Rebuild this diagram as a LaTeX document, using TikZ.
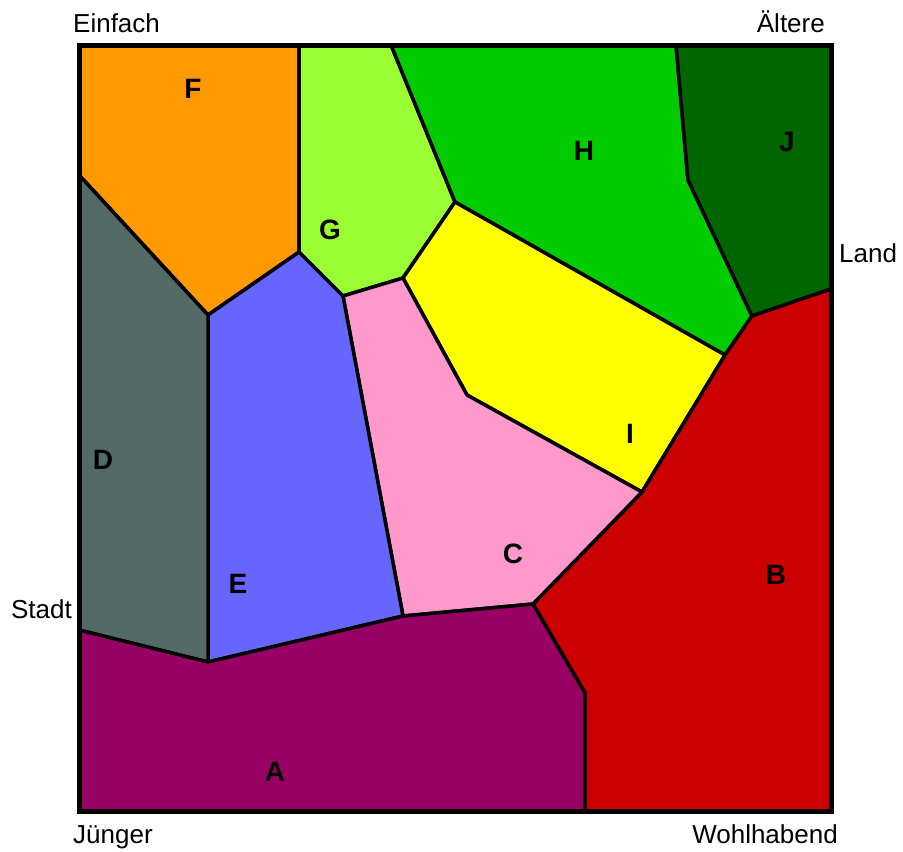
\documentclass[tikz,border=0pt]{standalone}
\usepackage{fontspec}
\setmainfont{Liberation Sans}
\usepackage{xcolor}
\usepackage{tikz}

\definecolor{cellA}{HTML}{990066}
\definecolor{cellB}{HTML}{CC0000}
\definecolor{cellC}{HTML}{FF99CC}
\definecolor{cellD}{HTML}{536A66}
\definecolor{cellE}{HTML}{6666FF}
\definecolor{cellF}{HTML}{FF9900}
\definecolor{cellG}{HTML}{99FF33}
\definecolor{cellH}{HTML}{00CC00}
\definecolor{cellI}{HTML}{FFFF00}
\definecolor{cellJ}{HTML}{006600}

\begin{document}
\begin{tikzpicture}[x=1pt, y=-1pt,
            cell/.style={draw=black, line width=3.5pt, line join=round},
            frame/.style={draw=black, line width=5pt, line join=miter},
            tag/.style={font=\fontsize{28}{30}\selectfont\bfseries, inner sep=0pt},
            axis/.style={font=\fontsize{26}{28}\selectfont, inner sep=0pt}]

            \useasboundingbox (0,0) rectangle (903,852);

            % Frame corners
            \coordinate (tl) at (79,45);
            \coordinate (tr) at (831,45);
            \coordinate (br) at (831,811);
            \coordinate (bl) at (79,811);

            % Cell vertices
            \coordinate (v1) at (299,45);
            \coordinate (v2) at (391,45);
            \coordinate (v3) at (676,45);
            \coordinate (v4) at (688,180);
            \coordinate (v5) at (752,316);
            \coordinate (v6) at (831,289);
            \coordinate (v7) at (725,355);
            \coordinate (v8) at (642,492);
            \coordinate (v9) at (533,604);
            \coordinate (v10) at (585,693);
            \coordinate (v11) at (585,811);
            \coordinate (v12) at (403,616);
            \coordinate (v13) at (208,662);
            \coordinate (v14) at (79,630);
            \coordinate (v15) at (79,175);
            \coordinate (v16) at (208,315);
            \coordinate (v17) at (299,252);
            \coordinate (v18) at (343,296);
            \coordinate (v19) at (403,278);
            \coordinate (v20) at (455,202);
            \coordinate (v21) at (467,395);

            % Cells
            \filldraw [cell, fill=cellF] (tl) -- (v1) -- (v17) -- (v16) -- (v15) -- cycle;
            \filldraw [cell, fill=cellG] (v1) -- (v2) -- (v20) -- (v19) -- (v18) -- (v17) -- cycle;
            \filldraw [cell, fill=cellH] (v2) -- (v3) -- (v4) -- (v5) -- (v7) -- (v20) -- cycle;
            \filldraw [cell, fill=cellJ] (v3) -- (tr) -- (v6) -- (v5) -- (v4) -- cycle;
            \filldraw [cell, fill=cellI] (v20) -- (v7) -- (v8) -- (v21) -- (v19) -- cycle;
            \filldraw [cell, fill=cellB] (v6) -- (br) -- (v11) -- (v10) -- (v9) -- (v8) -- (v7) -- (v5) -- cycle;
            \filldraw [cell, fill=cellC] (v19) -- (v21) -- (v8) -- (v9) -- (v12) -- (v18) -- cycle;
            \filldraw [cell, fill=cellE] (v17) -- (v18) -- (v12) -- (v13) -- (v16) -- cycle;
            \filldraw [cell, fill=cellD] (v15) -- (v16) -- (v13) -- (v14) -- cycle;
            \filldraw [cell, fill=cellA] (v14) -- (v13) -- (v12) -- (v9) -- (v10) -- (v11) -- (bl) -- cycle;
            \draw [frame] (tl) rectangle (br);

            % Cell letters
            \node (lF) [tag] at (193,89) {F};
            \node (lG) [tag] at (330,230) {G};
            \node (lH) [tag] at (584,151) {H};
            \node (lJ) [tag] at (787,142) {J};
            \node (lI) [tag] at (630,434) {I};
            \node (lD) [tag] at (103,460) {D};
            \node (lE) [tag] at (238,584) {E};
            \node (lC) [tag] at (513,554) {C};
            \node (lB) [tag] at (776,575) {B};
            \node (lA) [tag] at (275,772) {A};

            % Axis words
            \node (einfach) [axis, anchor=base west] at (73,32) {Einfach};
            \node (aeltere) [axis, anchor=base east] at (825,32) {Ältere};
            \node (land) [axis, anchor=base west] at (839,262) {Land};
            \node (stadt) [axis, anchor=base east] at (72,618) {Stadt};
            \node (juenger) [axis, anchor=base west] at (73,843) {Jünger};
            \node (wohl) [axis, anchor=base east] at (838,843) {Wohlhabend};
        \end{tikzpicture}
\end{document}
